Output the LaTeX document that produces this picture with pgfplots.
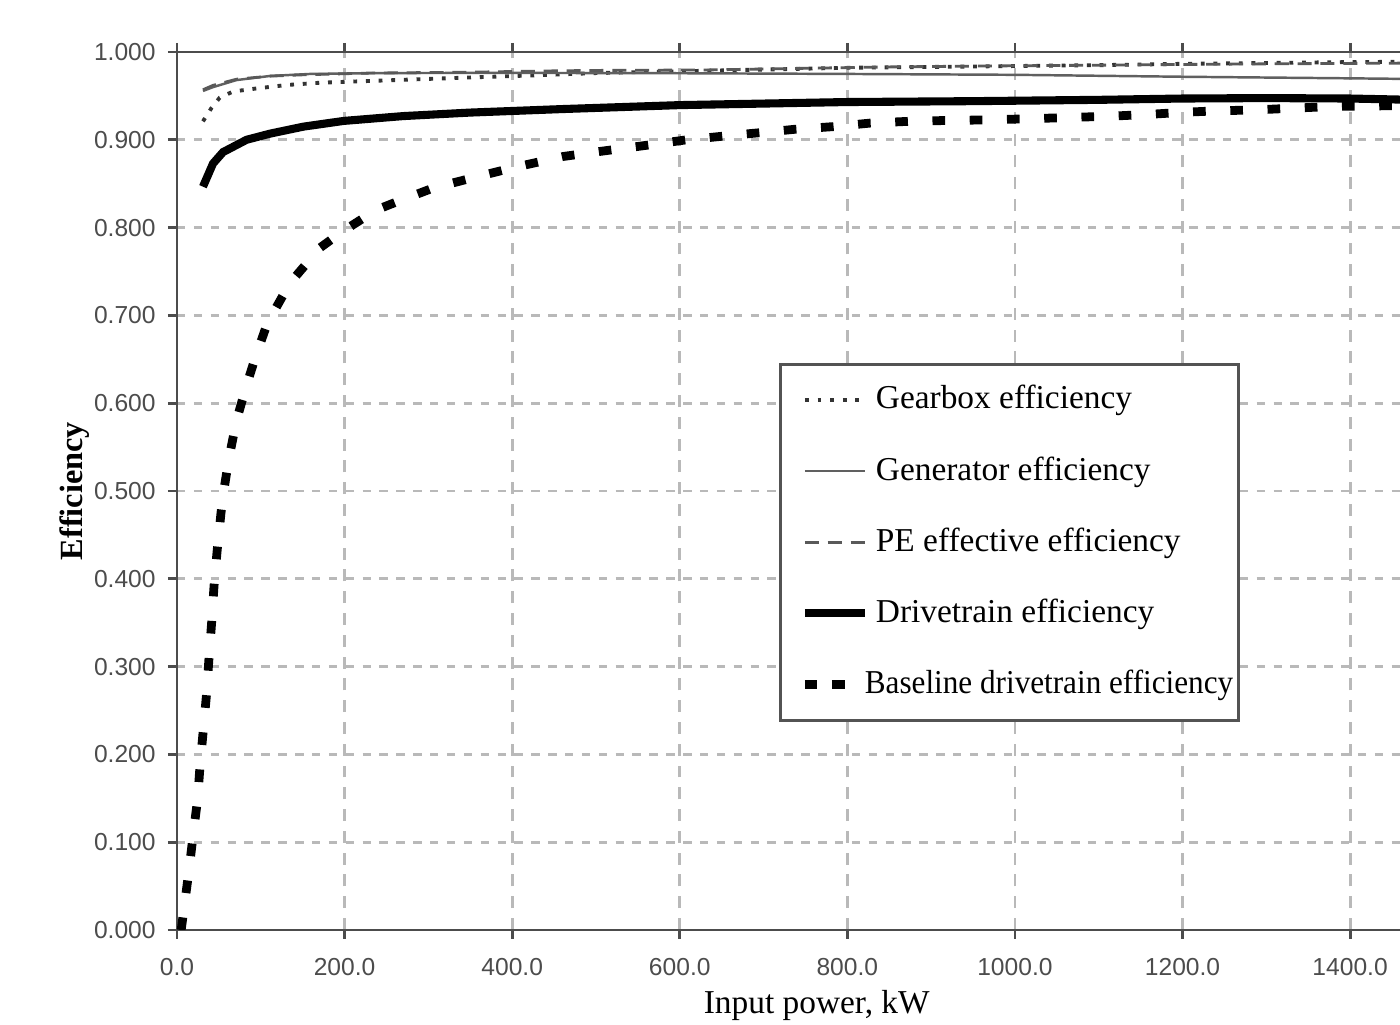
\documentclass[border=0pt]{standalone}
\usepackage{fontspec}
\setmainfont{Liberation Serif}
\newfontfamily\arialfont{Liberation Sans}
\usepackage{pgfplots}
\pgfplotsset{compat=1.18}
\begin{document}
\begin{tikzpicture}
\begin{scope}
\clip (-1.77,-0.95) rectangle (12.23,9.30);
\begin{axis}[
  scale only axis, width=12.569cm, height=8.78cm,
  xmin=0, xmax=1500, ymin=0, ymax=1,
  xtick={0,200,400,600,800,1000,1200,1400},
  ytick={0,0.1,0.2,0.3,0.4,0.5,0.6,0.7,0.8,0.9,1.0},
  axis line style={gray!60!black, line width=0.8pt},
  tick style={gray!60!black, line width=0.8pt},
  major tick length=0.09cm, tick align=outside,
  grid=major,
  major grid style={gray!55, line width=0.8pt},
  x grid style={dash pattern=on 3.4pt off 2.8pt},
  y grid style={dash pattern=on 2.4pt off 2.4pt},
  ticklabel style={font=\arialfont\fontsize{7}{8}\selectfont, text=black!70},
  /pgf/number format/assume math mode=true,
  yticklabel style={/pgf/number format/fixed, /pgf/number format/fixed zerofill, /pgf/number format/precision=3},
  xticklabel style={yshift=-0.07cm, /pgf/number format/fixed, /pgf/number format/fixed zerofill, /pgf/number format/precision=1, /pgf/number format/1000 sep={}},
  xlabel={Input power, kW},
  ylabel={\textbf{Efficiency}},
  xlabel style={at={(axis description cs:0.509,-0.0854)}, anchor=center, font=\fontsize{9.5}{11}\selectfont},
  ylabel style={at={(axis description cs:-0.0812,0.5)}, anchor=center, rotate=0, font=\fontsize{9.2}{10}\selectfont},
  legend style={at={(axis description cs:0.479,0.6458)}, anchor=north west,
    draw=gray!65!black, line width=0.8pt, fill=white,
    font=\fontsize{9.5}{11}\selectfont,
    inner xsep=0.2cm, inner ysep=0.2cm, row sep=0.394cm, column sep=0.07cm,
    nodes={inner sep=0pt, text height=7pt, text depth=2pt}},
  legend cell align=left,
  legend image code/.code={\draw[#1] (0cm,0cm) -- (0.6cm,0cm);},
]
\addplot[black!80, line width=1.1pt, dash pattern=on 1.1pt off 2.5pt] coordinates {
(31,0.921)(41,0.936)(51,0.948)(67,0.955)(95,0.9585)(131,0.9624)(171,0.965)(230,0.967)(290,0.969)(350,0.971)(430,0.9735)(500,0.976)(600,0.978)(700,0.980)(800,0.982)(900,0.983)(1000,0.984)(1100,0.985)(1200,0.9865)(1300,0.9875)(1400,0.9885)(1500,0.989)};
\addlegendentry{Gearbox efficiency}
\addplot[gray!75!black, line width=0.7pt] coordinates {
(31,0.9556)(43,0.960)(71,0.968)(111,0.9727)(159,0.975)(250,0.976)(400,0.9762)(600,0.9758)(800,0.975)(1000,0.974)(1200,0.9718)(1400,0.970)(1500,0.969)};
\addlegendentry{Generator efficiency}
\addplot[black!65, line width=0.8pt, dash pattern=on 4pt off 2.5pt] coordinates {
(31,0.957)(43,0.962)(71,0.969)(111,0.9725)(150,0.974)(230,0.976)(350,0.977)(450,0.9785)(500,0.979)(630,0.9795)(755,0.9815)(850,0.983)(960,0.984)(1100,0.985)(1200,0.9858)(1300,0.9865)(1400,0.987)(1500,0.9875)};
\addlegendentry{PE effective efficiency}
\addplot[black, line width=2.3pt] coordinates {
(31,0.8466)(43,0.873)(55,0.886)(83,0.900)(111,0.907)(151,0.915)(199,0.9215)(270,0.927)(350,0.931)(460,0.935)(600,0.9395)(800,0.943)(950,0.944)(1100,0.9455)(1200,0.947)(1300,0.9475)(1400,0.947)(1500,0.945)};
\addlegendentry{Drivetrain efficiency}
\addplot[black, line width=2.5pt, dash pattern=on 3.6pt off 7pt,
  legend image code/.code={\draw[black, line width=2.5pt] (0cm,0cm) -- (0.12cm,0cm); \draw[black, line width=2.5pt] (0.27cm,0cm) -- (0.4cm,0cm);}] coordinates {
(5,0.0)(14.3,0.068)(19.5,0.110)(24.7,0.150)(27.4,0.186)(31.4,0.228)(35.4,0.270)(38.2,0.310)(41.4,0.351)(44.2,0.392)(48.1,0.434)(52.5,0.475)(55.3,0.497)(62.1,0.538)(71.2,0.581)(83.2,0.621)(93.1,0.651)(107.8,0.691)(134.9,0.737)(170.7,0.777)(196.6,0.795)(237.5,0.820)(261.4,0.829)(305.5,0.845)(333.8,0.852)(400,0.868)(461,0.881)(506.9,0.887)(554.6,0.893)(608.3,0.900)(660.8,0.905)(706,0.909)(737.6,0.912)(783.3,0.915)(827,0.919)(872.8,0.921)(918.5,0.922)(964.3,0.9226)(1018,0.924)(1071.7,0.9256)(1117,0.927)(1161,0.929)(1194.6,0.931)(1240.8,0.933)(1286.6,0.934)(1332,0.936)(1380,0.938)(1429.7,0.9385)(1500,0.940)};
\addlegendentry{\hspace*{-0.11cm}\scalebox{0.934}[1]{Baseline drivetrain efficiency}\hspace*{-0.15cm}}
\end{axis}
\end{scope}
\pgfresetboundingbox
\useasboundingbox (-1.77,-0.95) rectangle (12.23,9.30);
\end{tikzpicture}
\end{document}
